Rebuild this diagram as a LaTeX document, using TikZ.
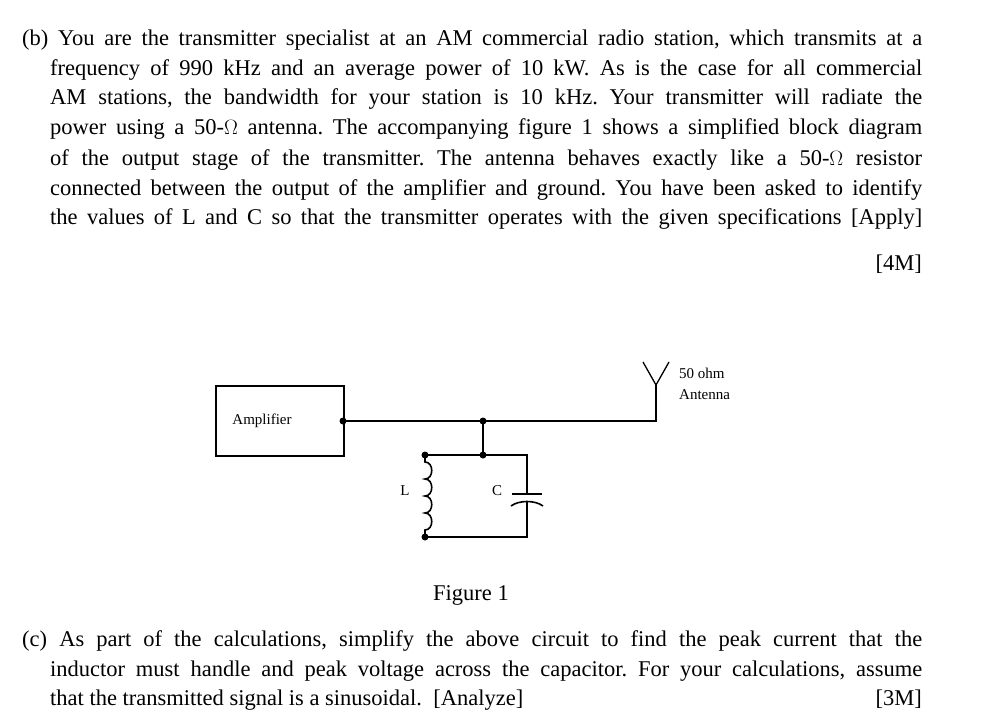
\documentclass[tikz,border=0pt]{standalone}
\usepackage{fontspec}
\setmainfont{Liberation Serif}
\begin{document}
\frenchspacing
\begin{tikzpicture}[x=1pt,y=-1pt,
  txt/.style={anchor=base west,inner sep=0pt,font=\fontsize{22.5}{26}\selectfont},
  sm/.style={inner sep=0pt,font=\fontsize{15}{18}\selectfont},
  wire/.style={line width=1.6pt},
  dot/.style={circle,fill=black,inner sep=0pt,minimum size=7pt}]
\useasboundingbox (0,0) rectangle (997,717);
% question (b)
\node[txt] (b1) at (22,46) {\makebox[900pt][s]{(b) You are the transmitter specialist at an AM commercial radio station, which transmits at a}};
\node[txt] (b2) at (50,76) {\makebox[872pt][s]{frequency of 990 kHz and an average power of 10 kW. As is the case for all commercial}};
\node[txt] (b3) at (50,105) {\makebox[872pt][s]{AM stations, the bandwidth for your station is 10 kHz. Your transmitter will radiate the}};
\node[txt] (b4) at (50,135) {\makebox[872pt][s]{power using a 50-$\Omega$ antenna. The accompanying figure 1 shows a simplified block diagram}};
\node[txt] (b5) at (50,165) {\makebox[872pt][s]{of the output stage of the transmitter. The antenna behaves exactly like a 50-$\Omega$ resistor}};
\node[txt] (b6) at (50,195) {\makebox[872pt][s]{connected between the output of the amplifier and ground. You have been asked to identify}};
\node[txt] (b7) at (50,224) {\makebox[872pt][s]{the values of L and C so that the transmitter operates with the given specifications [Apply]}};
\node[txt,anchor=base east] (m4) at (922,270) {[4M]};
% circuit
\node[draw,wire,minimum width=128pt,minimum height=70pt,anchor=north west] (amp) at (215,385) {};
\node[sm] (ampl) at (262,421) {Amplifier};
\coordinate (ant) at (656,421);
\coordinate (antt) at (656,385);
\draw[wire] (343,421) -- (ant) -- (antt);
\draw[wire] (483,421) -- (483,455);
\draw[wire] (425,455) -- (527,455) -- (527,494);
\draw[wire] (512,494) -- (542,494);
\draw[wire] (511,506) .. controls (519,500) and (535,500) .. (543,506);
\draw[wire] (527,501) -- (527,537) -- (425,537);
\draw[wire] (425,455) -- (425,462)
  .. controls (434,462) and (434,479) .. (425,479)
  .. controls (434,479) and (434,496) .. (425,496)
  .. controls (434,496) and (434,513) .. (425,513)
  .. controls (434,513) and (434,530) .. (425,530) -- (425,537);
\draw[line width=1.3pt] (643,362) -- (antt) -- (669,362);
\node[dot] (o) at (343,421) {};
\node[dot] (j) at (483,421) {};
\node[dot] (j2) at (483,455) {};
\node[dot] (lt) at (425,455) {};
\node[dot] (lb) at (425,537) {};
\node[sm,anchor=west] (t1) at (679,373) {50 ohm};
\node[sm,anchor=west] (t2) at (679,395) {Antenna};
\node[sm] (L) at (405,491) {L};
\node[sm] (C) at (497,491) {C};
\node[txt,anchor=base] (fig) at (471,600) {Figure 1};
% question (c)
\node[txt] (c1) at (22,646) {\makebox[900pt][s]{(c) As part of the calculations, simplify the above circuit to find the peak current that the}};
\node[txt] (c2) at (50,676) {\makebox[872pt][s]{inductor must handle and peak voltage across the capacitor. For your calculations, assume}};
\node[txt] (c3) at (50,705) {that the transmitted signal is a sinusoidal. \ [Analyze]};
\node[txt,anchor=base east] (m3) at (922,705) {[3M]};
\end{tikzpicture}
\end{document}
